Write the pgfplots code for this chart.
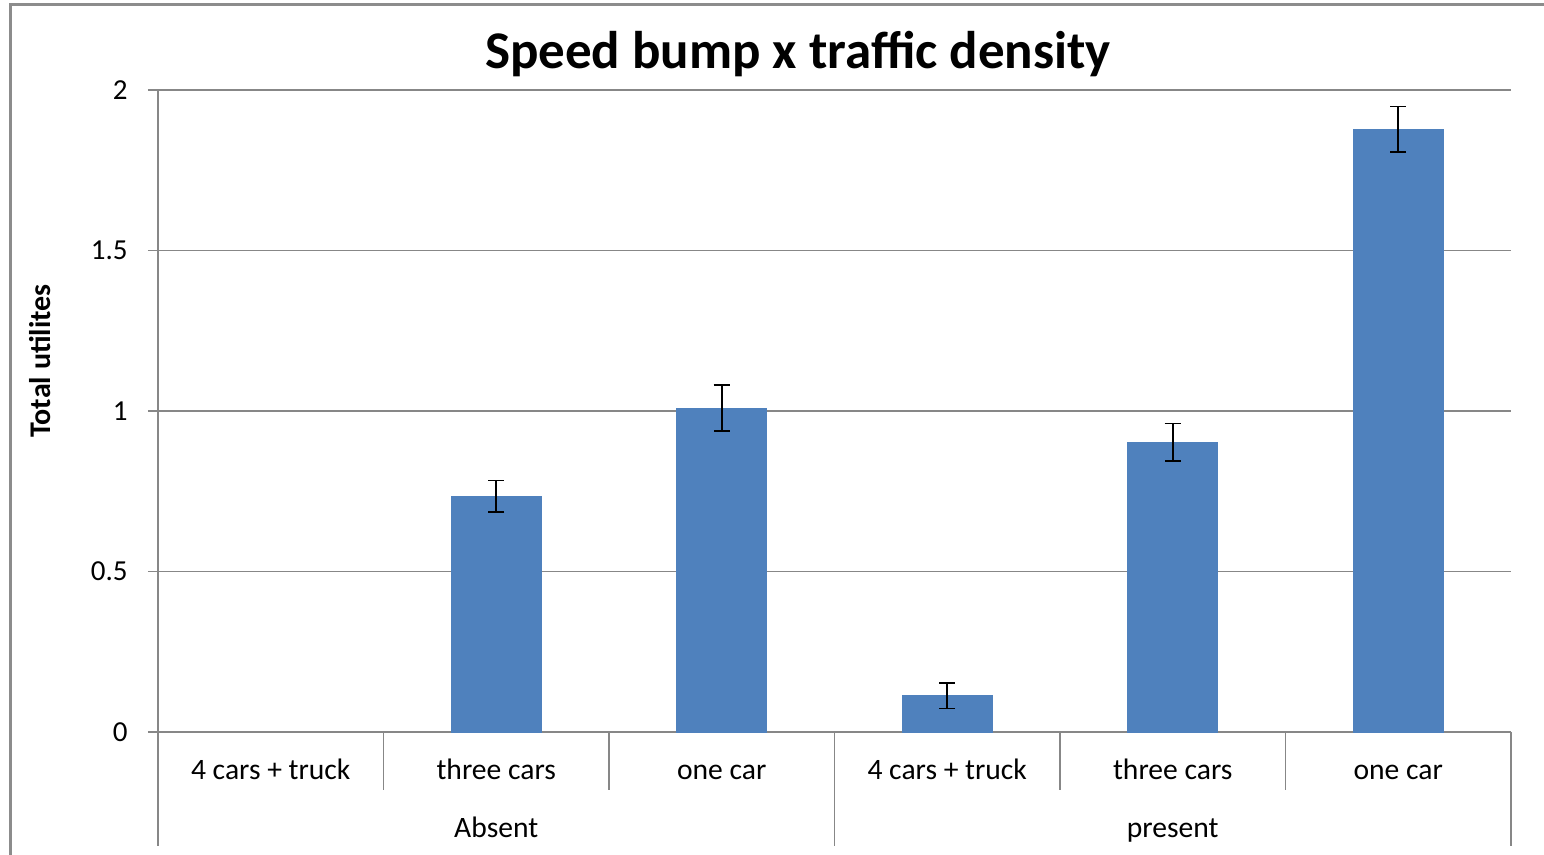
\documentclass[border=0pt]{standalone}
\usepackage{fontspec}
\setmainfont{Carlito}
\usepackage{pgfplots}
\pgfplotsset{compat=1.18}
\definecolor{barblue}{HTML}{4F81BD}
\definecolor{gridgray}{HTML}{878787}
\definecolor{framegray}{HTML}{8C8C8C}
\begin{document}
\begin{tikzpicture}
\useasboundingbox (0pt,0pt) rectangle (772pt,427.5pt);
\draw[framegray, line width=1.5pt] (5pt,-20pt) -- (5pt,425pt) -- (800pt,425pt);
\begin{axis}[
  at={(79pt,61.5pt)}, anchor=south west,
  scale only axis, width=676.5pt, height=321pt,
  xmin=-0.5, xmax=5.5, ymin=0, ymax=2,
  clip=false,
  axis x line*=bottom, axis y line*=left,
  axis line style={gridgray, line width=0.6pt, -},
  xtick={0,1,2,3,4,5},
  xticklabels={4 cars + truck, three cars, one car, 4 cars + truck, three cars, one car},
  x tick style={draw=none},
  xticklabel style={anchor=base, yshift=-19pt, font=\fontsize{14.8}{17}\selectfont},
  ytick={0,0.5,1,1.5,2},
  yticklabels={0,0.5,1,1.5,2},
  y tick style={gridgray, line width=0.6pt},
  tick align=outside, major tick length=5pt,
  yticklabel style={font=\fontsize{14.5}{17}\selectfont, inner sep=0pt, anchor=east, xshift=-10pt},
  ymajorgrids, grid style={gridgray, line width=0.6pt},
  /pgf/number format/assume math mode=true,
]
\addplot[ybar, bar width=0.4, fill=barblue, draw=barblue,
  error bars/.cd, y dir=both, y explicit,
  error bar style={black, line width=0.8pt},
  error mark options={black, line width=0.8pt, mark size=4pt, rotate=90}]
  coordinates {
    (1,0.735) +- (0,0.049)
    (2,1.009) +- (0,0.072)
    (3,0.113) +- (0,0.040)
    (4,0.903) +- (0,0.058)
    (5,1.878) +- (0,0.071)
  };
\draw[gridgray, line width=0.6pt] (axis cs:-0.5,0) -- ++(0pt,-57pt);
\draw[gridgray, line width=0.6pt] (axis cs:2.5,0) -- ++(0pt,-57pt);
\draw[gridgray, line width=0.6pt] (axis cs:5.5,0) -- ++(0pt,-57pt);
\draw[gridgray, line width=0.6pt] (axis cs:0.5,0) -- ++(0pt,-29pt);
\draw[gridgray, line width=0.6pt] (axis cs:1.5,0) -- ++(0pt,-29pt);
\draw[gridgray, line width=0.6pt] (axis cs:3.5,0) -- ++(0pt,-29pt);
\draw[gridgray, line width=0.6pt] (axis cs:4.5,0) -- ++(0pt,-29pt);
\node[anchor=base, font=\fontsize{14.8}{17}\selectfont] at ([yshift=-53pt]axis cs:1,0) {Absent};
\node[anchor=base, font=\fontsize{14.8}{17}\selectfont] at ([yshift=-53pt]axis cs:4,0) {present};
\end{axis}
\node[rotate=90, font=\bfseries\fontsize{15}{18}\selectfont] at (20pt,247pt) {Total utilites};
\node[font=\bfseries\fontsize{26.5}{30}\selectfont] at (399pt,400.5pt) {Speed bump x traffic density};
\end{tikzpicture}
\end{document}
